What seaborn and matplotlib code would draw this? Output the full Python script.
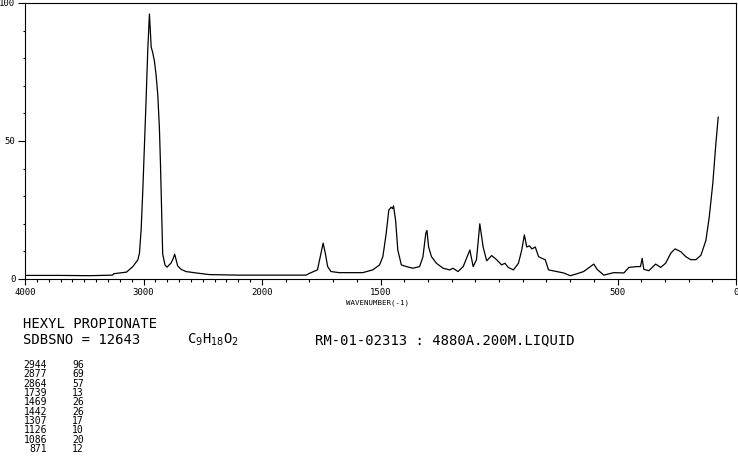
import numpy as np
import pandas as pd
import matplotlib
matplotlib.use('Agg')
import matplotlib.pyplot as plt
import seaborn as sns

# Raman spectrum of hexyl propionate
wavenumber = [4000, 3706, 3454, 3261, 3252, 3143, 3090, 3048, 3034, 3020,
              3006, 2992, 2978, 2964, 2950, 2941, 2935, 2922, 2908, 2894,
              2880, 2866, 2857, 2846, 2838, 2818, 2801, 2767, 2748, 2737,
              2725, 2712, 2683, 2641, 2557, 2445, 2193, 2000,
              1814, 1801, 1766, 1751, 1742, 1733, 1723, 1709, 1674, 1575,
              1533, 1504, 1490, 1476, 1465, 1455, 1449, 1445, 1436, 1427,
              1412, 1391, 1363, 1335, 1321, 1309, 1304, 1297, 1285, 1264,
              1236, 1208, 1194, 1173, 1151, 1137, 1123, 1109, 1095, 1081,
              1067, 1052, 1031, 1010, 989, 975, 961, 939, 918, 904,
              893, 883, 872, 861, 847, 833, 819, 805, 791, 756,
              728, 699, 671, 643, 614, 600, 586, 558, 516, 473,
              452, 417, 403, 396, 389, 368, 339, 318, 297, 275,
              257, 233, 212, 191, 169, 148, 127, 113, 98, 85, 75]
intensity = [1.3, 1.3, 1.2, 1.4, 1.9, 2.5, 4.5, 6.9, 9.4, 17.8,
             32, 48, 65, 83, 96, 89, 84, 82, 79, 74,
             67, 55, 42, 22, 9, 5, 4.3, 5.8, 7.6, 9,
             7, 4.8, 3.5, 2.7, 2.2, 1.6, 1.4, 1.4,
             1.4, 2.0, 3.3, 9.4, 13, 9.4, 4.5, 2.7, 2.3, 2.3,
             3.3, 5.1, 8.1, 16.5, 25, 26, 25.5, 26.5, 21, 10.5,
             5.1, 4.5, 3.9, 4.5, 8, 16.5, 17.6, 11.6, 8.1, 5.7,
             3.9, 3.3, 3.9, 2.7, 4.5, 7.5, 10.5, 4.5, 7, 20,
             11.6, 6.6, 8.5, 7, 5.1, 5.7, 4.2, 3.3, 5.7, 10.5,
             16, 11.6, 12, 10.9, 11.6, 8.1, 7.5, 7, 3.3, 2.7,
             2.2, 1.2, 1.9, 2.7, 4.5, 5.4, 3.5, 1.4, 2.3, 2.2,
             4.2, 4.5, 4.5, 7.5, 3.5, 3, 5.4, 4.2, 5.7, 9.4,
             10.9, 9.9, 8.1, 7, 7, 8.6, 14, 22.4, 34.5, 49, 58.7]

peak_pos = ['2944', '2877', '2864', '1739', '1469', '1442', '1307', '1126', '1086', '871']
peak_int = ['96', '69', '57', '13', '26', '26', '17', '10', '20', '12']

x_major = [4000, 3000, 2000, 1500, 500, 0]
x_major_labels = ['4000', '3000', '2000', '1500', '500', '0']
y_major = [0, 50, 100]

df = pd.DataFrame({'wavenumber': wavenumber, 'intensity': intensity})

sns.set_style('ticks')
plt.rcParams['text.color'] = 'black'
plt.rcParams['xtick.color'] = 'black'
plt.rcParams['ytick.color'] = 'black'
mono = 'DejaVu Sans Mono'

W, H = 738, 457
fig = plt.figure(figsize=(W / 100, H / 100), dpi=100)
ax = fig.add_axes([25 / W, 1 - 279 / H, (736 - 25) / W, (279 - 3) / H])

sns.lineplot(data=df, x='wavenumber', y='intensity', ax=ax, color='black',
             linewidth=0.9, estimator=None, sort=False)


# above 2000 the axis is compressed by half
def fwd(w):
    w = np.asarray(w, dtype=float)
    return np.where(w > 2000, 2000 + (w - 2000) / 2, w)


def inv(u):
    u = np.asarray(u, dtype=float)
    return np.where(u > 2000, 2000 + (u - 2000) * 2, u)


ax.set_xscale('function', functions=(fwd, inv))
ax.set_xlim(4000, 0)
ax.set_ylim(0, 100)

ax.set_xticks(x_major)
ax.set_xticklabels(x_major_labels, fontfamily=mono, fontsize=6.5)
ax.set_xticks([v for v in range(0, 4001, 100) if v not in x_major], minor=True)
ax.set_yticks(y_major)
ax.set_yticklabels([str(v) for v in y_major], fontfamily=mono, fontsize=6.5)
ax.set_yticks(range(0, 101, 10), minor=True)

ax.tick_params(axis='x', which='major', length=4.5, width=0.8, pad=2,
               color='black', labelcolor='black')
ax.tick_params(axis='x', which='minor', length=2.2, width=0.8, color='black')
ax.tick_params(axis='y', which='major', length=5, width=0.8, pad=2,
               color='black', labelcolor='black')
ax.tick_params(axis='y', which='minor', length=1.6, width=0.8, color='black')

for s in ax.spines.values():
    s.set_visible(True)
    s.set_linewidth(0.8)
    s.set_color('black')

ax.set_xlabel('')
ax.set_ylabel('')


def px(x, y):
    return x / W, 1 - y / H


fig.text(*px(378, 303), 'WAVENUMBER(-1)', fontfamily=mono, fontsize=5.3,
         ha='center', va='center')
fig.text(*px(23, 324), 'HEXYL PROPIONATE', fontfamily=mono, fontsize=10,
         ha='left', va='center')
fig.text(*px(23, 340), 'SDBSNO = 12643', fontfamily=mono, fontsize=10,
         ha='left', va='center')
fig.text(*px(187, 340), r'C$_9$H$_{18}$O$_2$', fontfamily=mono, fontsize=10,
         ha='left', va='center')
fig.text(*px(315, 340), 'RM-01-02313 : 4880A.200M.LIQUID', fontfamily=mono,
         fontsize=10, ha='left', va='center')

for i in range(len(peak_pos)):
    y = 365 + i * 9.33
    fig.text(*px(47, y), peak_pos[i], fontfamily=mono, fontsize=7,
             ha='right', va='center')
    fig.text(*px(72, y), peak_int[i], fontfamily=mono, fontsize=7,
             ha='left', va='center')

fig.savefig('out.png', dpi=100, facecolor='white')
